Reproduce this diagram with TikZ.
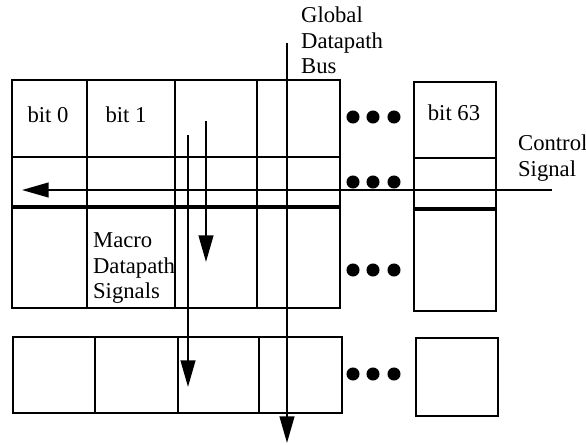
\documentclass[tikz,border=0pt]{standalone}
\usepackage{fontspec}
\setmainfont{Liberation Serif}
\usetikzlibrary{arrows.meta}

\begin{document}
\begin{tikzpicture}[x=0.75pt, y=-0.75pt, line width=1.7pt,
    sig/.style={-{Triangle[length=20pt,width=11pt]}},
    lbl/.style={inner sep=0pt, font=\fontsize{17}{19}\selectfont}]
    \useasboundingbox (0,0) rectangle (586,444);
    % top block - bit slices
    \draw (12,80) rectangle (340,308);
    \draw (12,157) -- (340,157);
    \draw[line width=2.4pt] (12,207) -- (340,207);
    \foreach \x in {87,175,257} \draw (\x,80) -- (\x,308);
    % bit 63 column
    \draw (414,82) rectangle (496,311);
    \draw (414,158) -- (496,158);
    \draw[line width=2.4pt] (414,209) -- (496,209);
    % bottom block
    \draw (13,337) rectangle (342,413);
    \foreach \x in {95,178,259} \draw (\x,337) -- (\x,413);
    \draw (416,338) rectangle (498,416);
    % dots
    \foreach \y in {117,182,270,374}
        \foreach \x in {353,373,394}
            \fill (\x,\y) circle (4.9pt);
    % labels
    \node[lbl, anchor=base] (bit0) at (48,122) {bit 0};
    \node[lbl, anchor=base] (bit1) at (126,122) {bit 1};
    \node[lbl, anchor=base] (bit63) at (454,120) {bit 63};
    \node[lbl, anchor=north west, align=left] (buslbl) at (300,6) {Global\\Datapath\\Bus};
    \node[lbl, anchor=north west, align=left] (ctllbl) at (517,134) {Control\\Signal};
    \node[lbl, anchor=north west, align=left] (macrolbl) at (92,232) {Macro\\Datapath\\Signals};
    % signals
    \coordinate (busin) at (287,43);
    \coordinate (busout) at (287,443);
    \coordinate (ctlin) at (552,190);
    \coordinate (ctlout) at (22,190);
    \coordinate (macroAin) at (188,135);
    \coordinate (macroAout) at (188,387);
    \coordinate (macroBin) at (206,121);
    \coordinate (macroBout) at (206,262);
    \draw[sig] (busin) -- (busout);
    \draw[sig] (ctlin) -- (ctlout);
    \draw[sig] (macroAin) -- (macroAout);
    \draw[sig] (macroBin) -- (macroBout);
\end{tikzpicture}
\end{document}
